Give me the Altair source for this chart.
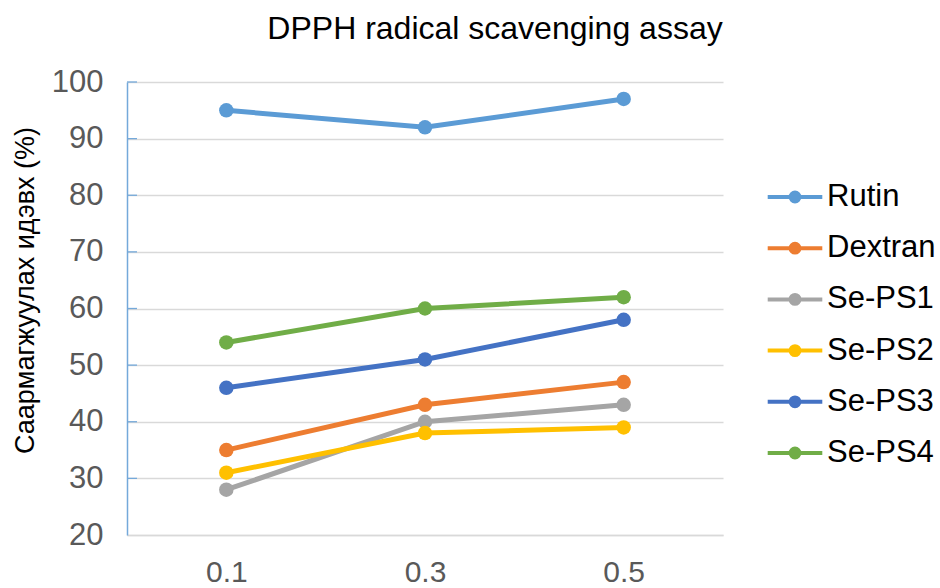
import altair as alt
import pandas as pd

# Concentrations on the x axis and the measured scavenging activity (%) per sample
concentrations = ["0.1", "0.3", "0.5"]
series = ["Rutin", "Dextran", "Se-PS1", "Se-PS2", "Se-PS3", "Se-PS4"]
rutin = [95, 92, 97]
dextran = [35, 43, 47]
se_ps1 = [28, 40, 43]
se_ps2 = [31, 38, 39]
se_ps3 = [46, 51, 58]
se_ps4 = [54, 60, 62]
colors = ["#5B9BD5", "#ED7D31", "#A5A5A5", "#FFC000", "#4472C4", "#70AD47"]
y_ticks = [20, 30, 40, 50, 60, 70, 80, 90, 100]

rows = []
for name, vals in zip(series, [rutin, dextran, se_ps1, se_ps2, se_ps3, se_ps4]):
    for c, v in zip(concentrations, vals):
        rows.append({"conc": c, "series": name, "value": v})
df = pd.DataFrame(rows)
tick_df = pd.DataFrame({"value": y_ticks[1:]})

FONT = "Liberation Sans"
AXIS_BLUE = "#74A9DA"
GRID = "#D9D9D9"

# legend glyph: a short line with a dot in the middle (stroke-only path)
legend_symbol = (
    "M-1.05,0H1.05"
    "M-0.17,0A0.17,0.17,0,1,1,0.17,0A0.17,0.17,0,1,1,-0.17,0"
    "M-0.075,0A0.075,0.075,0,1,1,0.075,0A0.075,0.075,0,1,1,-0.075,0"
)

x_enc = alt.X(
    "conc:O",
    sort=concentrations,
    scale=alt.Scale(type="point", padding=0.5),
    axis=alt.Axis(
        title=None, labelAngle=0, labelFontSize=30, labelFont=FONT,
        labelColor="#595959", labelPadding=22, ticks=False,
        domainColor=GRID, domainWidth=1.3, grid=False,
    ),
)
y_enc = alt.Y(
    "value:Q",
    scale=alt.Scale(domain=[20, 100], nice=False, zero=False),
    axis=alt.Axis(
        values=y_ticks, title="Саармагжуулах идэвх (%)",
        titleFontSize=27, titleFont=FONT, titleFontWeight="normal",
        titleColor="black", titleAngle=-90, titleX=-102, titleY=208,
        titleAlign="center", titleBaseline="middle",
        labelFontSize=31, labelFont=FONT, labelColor="#595959",
        labelPadding=24, ticks=False,
        domainColor=AXIS_BLUE, domainWidth=1.5,
        gridColor=GRID, gridWidth=1.3,
    ),
)

lines = alt.Chart(df).mark_line(
    strokeWidth=5,
    point=alt.OverlayMarkDef(size=210, filled=True, opacity=1),
).encode(
    x=x_enc,
    y=y_enc,
    color=alt.Color(
        "series:N",
        sort=series,
        scale=alt.Scale(domain=series, range=colors),
        legend=alt.Legend(
            title=None, orient="none", legendX=640, legendY=87,
            symbolType=legend_symbol, symbolSize=2704, symbolStrokeWidth=4,
            symbolOpacity=1, labelFontSize=31, labelFont=FONT,
            labelColor="black", labelOffset=4, rowPadding=8.2, padding=0,
        ),
    ),
)

# small inward ticks on the value axis
ticks = alt.Chart(tick_df).mark_rule(color=AXIS_BLUE, strokeWidth=1.3).encode(
    y="value:Q", x=alt.value(0), x2=alt.value(10)
)

chart = (
    alt.layer(lines, ticks)
    .properties(
        width=596,
        height=453,
        autosize=alt.AutoSizeParams(type="none"),
        padding={"left": 127, "top": 82, "right": 217, "bottom": 53},
        title=alt.TitleParams(
            "DPPH radical scavenging assay", fontSize=32, font=FONT,
            fontWeight="normal", color="black", anchor="middle", dx=70,
            offset=20,
        ),
        background="white",
    )
    .configure_view(stroke=None)
)

chart.save("out.html", embed_options={"renderer": "svg", "actions": False})
